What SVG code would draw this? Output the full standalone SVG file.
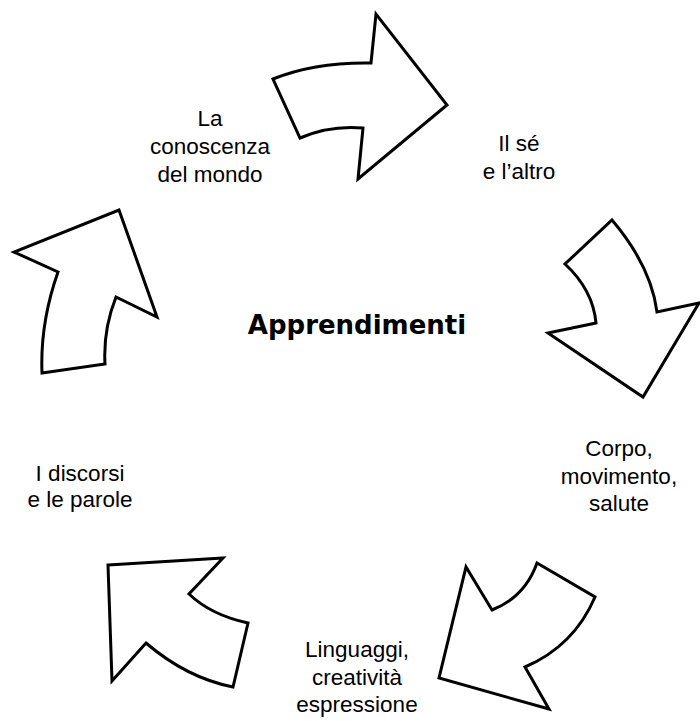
<svg xmlns="http://www.w3.org/2000/svg" width="700" height="721" viewBox="0 0 700 721">
<style>
.arr{fill:#fff;stroke:#000;stroke-width:3;stroke-linejoin:miter}
.lbl{font-family:"Liberation Sans",Arial,sans-serif;font-size:22.5px;fill:#000;text-anchor:middle}
.title{font-family:"DejaVu Sans",Verdana,sans-serif;font-size:26px;font-weight:bold;fill:#000;text-anchor:middle}
</style>
<rect width="700" height="721" fill="#fff"/>
<g id="connectors">
<path id="arrow1" class="arr" d="M273,79 Q315,62 371,63 L376,14 L447,105 L358,179 L363,128 Q330,125 300,138 Z"/>
<path id="arrow2" class="arr" d="M612,220 Q651,266 657,312 L699,303 L643,397 L548,333 L596,323 Q593,290 565,264 Z"/>
<path id="arrow3" class="arr" d="M537,563 L595,597 Q574,646 525,667 L549,709 L439,678 L466,567 L492,610 Q525,597 537,563 Z"/>
<path id="arrow4" class="arr" d="M108,565 L223,558 L189,594 Q211,615 248,623 L233,687 Q187,678 146,643 L112,681 Z"/>
<path id="arrow5" class="arr" d="M119,210 L157,317 L116,297 Q103,330 105,364 L42,373 Q40,323 58,272 L14,252 Z"/>
</g>
<g id="center"><text class="title" x="357" y="334">Apprendimenti</text></g>
<g id="n-conoscenza"><text class="lbl" x="210" y="126">La</text><text class="lbl" x="210" y="154">conoscenza</text><text class="lbl" x="210" y="182">del mondo</text></g>
<g id="n-se"><text class="lbl" x="519" y="151">Il sé</text><text class="lbl" x="519" y="179">e l’altro</text></g>
<g id="n-corpo"><text class="lbl" x="619" y="456">Corpo,</text><text class="lbl" x="619" y="484">movimento,</text><text class="lbl" x="619" y="511">salute</text></g>
<g id="n-linguaggi"><text class="lbl" x="357" y="657">Linguaggi,</text><text class="lbl" x="357" y="685">creatività</text><text class="lbl" x="357" y="712">espressione</text></g>
<g id="n-discorsi"><text class="lbl" x="80" y="481">I discorsi</text><text class="lbl" x="80" y="507">e le parole</text></g>
</svg>
